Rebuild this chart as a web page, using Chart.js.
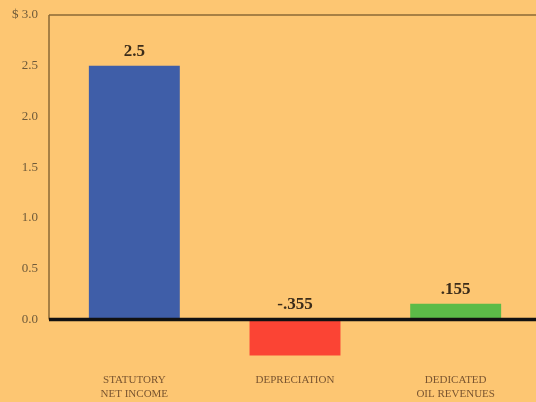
<!DOCTYPE html>
<html>
<head>
<meta charset="utf-8">
<script src="https://cdn.jsdelivr.net/npm/chart.js@4/dist/chart.umd.min.js"></script>
<style>
  html, body { margin: 0; padding: 0; background: #fdc672; }
  canvas { display: block; }
</style>
</head>
<body>
<canvas id="chart" width="536" height="402"></canvas>
<script>
const categories = [['STATUTORY', 'NET INCOME'], ['DEPRECIATION'], ['DEDICATED', 'OIL REVENUES']];
const values = [2.5, -0.355, 0.155];
const valueLabels = ['2.5', '-.355', '.155'];
const barColors = ['#3f5ea8', '#fb4434', '#5cbb48'];
const yTickLabels = { 3: '$ 3.0', 2.5: '2.5', 2: '2.0', 1.5: '1.5', 1: '1.0', 0.5: '0.5', 0: '0.0' };

const AXIS_LEFT = 49;

const framePlugin = {
  id: 'frame',
  afterDatasetsDraw(chart) {
    const { ctx, scales: { y }, width } = chart;
    const top = y.getPixelForValue(3);
    const zero = y.getPixelForValue(0);
    ctx.save();
    ctx.strokeStyle = '#8a6936';
    ctx.lineWidth = 1.5;
    ctx.beginPath();
    ctx.moveTo(AXIS_LEFT, top);
    ctx.lineTo(width, top);
    ctx.moveTo(AXIS_LEFT, top);
    ctx.lineTo(AXIS_LEFT, zero);
    ctx.stroke();
    ctx.strokeStyle = '#111';
    ctx.lineWidth = 3.5;
    ctx.beginPath();
    ctx.moveTo(AXIS_LEFT, zero);
    ctx.lineTo(width, zero);
    ctx.stroke();
    ctx.restore();
  },
};

const valueLabelPlugin = {
  id: 'valueLabels',
  afterDraw(chart) {
    const { ctx } = chart;
    const meta = chart.getDatasetMeta(0);
    const zero = chart.scales.y.getPixelForValue(0);
    ctx.save();
    ctx.font = 'bold 17px "Liberation Serif", serif';
    ctx.fillStyle = '#3b2c1a';
    ctx.textAlign = 'center';
    ctx.textBaseline = 'bottom';
    meta.data.forEach((bar, i) => {
      const top = Math.min(bar.y, zero);
      ctx.fillText(valueLabels[i], bar.x, top - 6);
    });
    ctx.restore();
  },
};

new Chart(document.getElementById('chart'), {
  type: 'bar',
  data: {
    labels: categories,
    datasets: [{
      data: values,
      backgroundColor: barColors,
      borderWidth: 0,
      barPercentage: 0.566,
      categoryPercentage: 1,
    }],
  },
  options: {
    responsive: false,
    animation: false,
    layout: {
      padding: { top: 15, left: 5, right: 0, bottom: 0 },
    },
    plugins: {
      legend: { display: false },
      tooltip: { enabled: false },
    },
    scales: {
      x: {
        grid: { display: false },
        border: { display: false },
        ticks: {
          color: '#7a5530',
          font: { family: '"Liberation Serif", serif', size: 11 },
          padding: 6,
          maxRotation: 0,
          autoSkip: false,
        },
        afterFit(scale) {
          scale.height = 42;
        },
      },
      y: {
        min: -0.4,
        max: 3,
        grid: { display: false, drawTicks: false },
        border: { display: false },
        ticks: {
          stepSize: 0.5,
          color: '#6e5a3a',
          font: { family: '"Liberation Serif", serif', size: 13 },
          padding: 16,
          callback(value) {
            const label = yTickLabels[value];
            return label === undefined ? '' : label;
          },
        },
        afterFit(scale) {
          scale.width = AXIS_LEFT;
          scale.paddingTop = 0;
          scale.paddingBottom = 0;
        },
      },
    },
  },
  plugins: [framePlugin, valueLabelPlugin],
});
</script>
</body>
</html>
